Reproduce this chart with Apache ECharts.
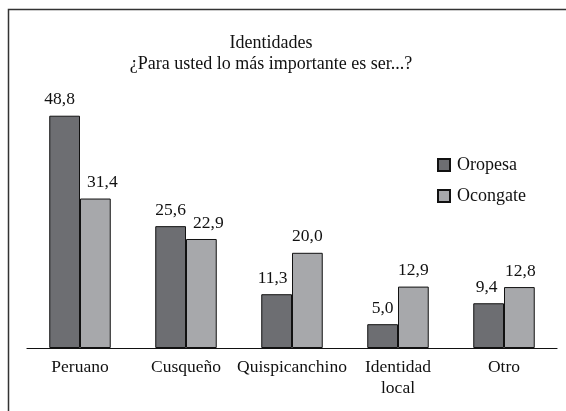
<!DOCTYPE html>
<html>
<head>
    <meta charset="utf-8">
    <title></title>
    <script type="text/javascript" src="https://cdn.jsdelivr.net/npm/echarts@6/dist/echarts.min.js"></script>
</head>
<body style="margin:0;background:#fff;">
<div id="main" style="width:566px;height:411px;"></div>
    <script type="text/javascript">
        // datos
        var categorias = ['Peruano', 'Cusqueño', 'Quispicanchino', 'Identidad\nlocal', 'Otro'];
        var oropesa = [48.8, 25.6, 11.3, 5.0, 9.4];
        var ocongate = [31.4, 22.9, 20.0, 12.9, 12.8];

        var fuente = '"Liberation Serif", "DejaVu Serif", serif';
        var charts = echarts.init(document.getElementById('main'));

        function etiqueta(p) {
            return p.value.toFixed(1).replace('.', ',');
        }

        // en el original algunas etiquetas no quedan centradas sobre la barra
        function conDesplazamiento(valores, desp) {
            return valores.map(function (v, i) {
                return desp[i] ? { value: v, label: { offset: [desp[i], 0] } } : v;
            });
        }

        var option = {
            backgroundColor: '#fff',
            animation: false,
            title: {
                text: 'Identidades\n¿Para usted lo más importante es ser...?',
                left: 271,
                top: 33,
                padding: 0,
                textAlign: 'center',
                textStyle: {
                    color: '#111',
                    fontSize: 18,
                    fontWeight: 'normal',
                    fontFamily: fuente,
                    lineHeight: 21
                }
            },
            legend: {
                orient: 'vertical',
                left: 437,
                top: 156,
                padding: 0,
                itemWidth: 12,
                itemHeight: 12,
                itemGap: 13,
                icon: 'rect',
                textStyle: {
                    color: '#111',
                    fontSize: 18,
                    fontFamily: fuente,
                    padding: [0, 0, 0, 2]
                },
                data: ['Oropesa', 'Ocongate']
            },
            grid: {
                left: 27,
                right: 9,
                top: 110,
                bottom: 63
            },
            xAxis: {
                type: 'category',
                data: categorias,
                axisLine: { lineStyle: { color: '#111', width: 1.2 } },
                axisTick: { show: false },
                axisLabel: {
                    color: '#111',
                    fontSize: 17.5,
                    fontFamily: fuente,
                    margin: 9,
                    lineHeight: 21,
                    interval: 0
                }
            },
            yAxis: {
                type: 'value',
                min: 0,
                max: 50,
                show: false
            },
            graphic: [{
                type: 'rect',
                shape: { x: 8.5, y: 9.5, width: 700, height: 600 },
                style: { fill: 'none', stroke: '#333', lineWidth: 1.5 },
                silent: true
            }],
            series: [{
                name: 'Oropesa',
                type: 'bar',
                data: conDesplazamiento(oropesa, [-5, 0, -4, 0, -2]),
                barGap: 0,
                barCategoryGap: '42%',
                itemStyle: { color: '#6d6e72', borderColor: '#111', borderWidth: 1 },
                label: {
                    show: true,
                    position: 'top',
                    distance: 7,
                    formatter: etiqueta,
                    color: '#111',
                    fontSize: 17.5,
                    fontFamily: fuente
                }
            }, {
                name: 'Ocongate',
                type: 'bar',
                data: conDesplazamiento(ocongate, [7, 7, 0, 0, 1]),
                itemStyle: { color: '#a7a8ab', borderColor: '#111', borderWidth: 1 },
                label: {
                    show: true,
                    position: 'top',
                    distance: 7,
                    formatter: etiqueta,
                    color: '#111',
                    fontSize: 17.5,
                    fontFamily: fuente
                }
            }]
        };

        charts.setOption(option);
    </script>
</body>
</html>
